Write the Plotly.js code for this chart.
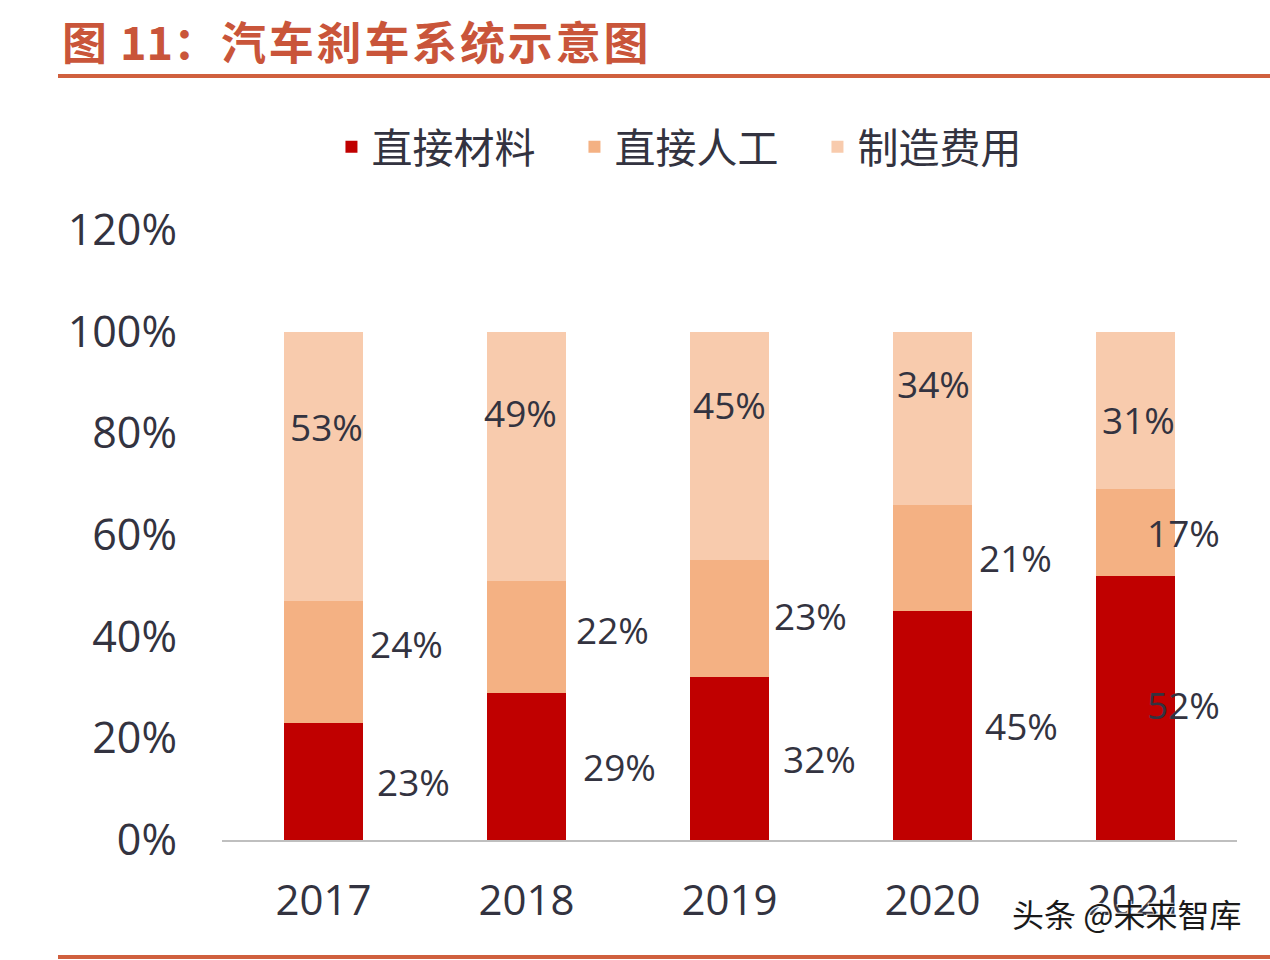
<!DOCTYPE html>
<html>
<head>
<meta charset="utf-8">
<script src="https://cdn.plot.ly/plotly-3.0.1.min.js"></script>
<style>html,body{margin:0;padding:0;background:#fff;}#chart{width:1270px;height:960px;}</style>
</head>
<body>
<div id="chart"></div>
<script>
const years = ['2017', '2018', '2019', '2020', '2021'];
const seriesNames = ['直接材料', '直接人工', '制造费用'];
const material = [23, 29, 32, 45, 52];
const labor = [24, 22, 23, 21, 17];
const overhead = [53, 49, 45, 34, 31];
const yTickVals = [0, 20, 40, 60, 80, 100, 120];
const yTickText = ['0%', '20%', '40%', '60%', '80%', '100%', '120%'];

const colors = ['#C00000', '#F4B183', '#F8CBAD'];
const textColor = '#333340';
const numFont = 'Open Sans, Noto Sans, sans-serif';
const cjkFont = 'Noto Sans CJK SC, sans-serif';

const series = [material, labor, overhead];
const traces = series.map((vals, i) => ({
  type: 'bar',
  name: seriesNames[i],
  x: years,
  y: vals,
  marker: {color: colors[i], line: {width: 0}},
  hoverinfo: 'skip'
}));

// label placement nudges (px), mimicking the source chart's manual label positions
const xShift = [[90, 93, 90, 89, 48], [83, 86, 81, 83, 48], [3, -6, 0, 1, 3]];
const yShift = [[0, 0, 0, 0, 3], [19, 7, 3, 0, 0], [40, 44, 42, 35, -9]];

const annotations = [];
years.forEach((yr, j) => {
  let base = 0;
  series.forEach((vals, i) => {
    const v = vals[j];
    annotations.push({
      x: j, y: base + v / 2, xref: 'x', yref: 'y',
      text: v + '%', showarrow: false,
      xshift: xShift[i][j], yshift: yShift[i][j],
      font: {family: numFont, size: 37, color: textColor}
    });
    base += v;
  });
});

annotations.push({
  xref: 'paper', yref: 'paper', x: 1.006, y: -0.12, xanchor: 'right', yanchor: 'middle',
  text: '头条 @未来智库', showarrow: false,
  font: {family: cjkFont, size: 32, color: '#1a1a1a', shadow: '1px 1px 1px #fff, -1px -1px 1px #fff'}
});

const hs = '\u200A';
const titleText = ['图', ' 11：', '汽', '车', '刹', '车', '系', '统', '示', '意', '图'].join(hs);

const layout = {
  width: 1270, height: 960,
  paper_bgcolor: '#ffffff', plot_bgcolor: '#ffffff',
  margin: {l: 222, r: 33, t: 230, b: 120},
  title: {
    text: titleText,
    x: 62 / 1270, xanchor: 'left', xref: 'container',
    y: 1 - 44 / 960, yanchor: 'middle', yref: 'container',
    font: {family: cjkFont, size: 45, color: '#C9553A', weight: 'bold'}
  },
  barmode: 'stack',
  bargap: 0.606,
  showlegend: true,
  legend: {
    orientation: 'h', x: 0.548, xanchor: 'center', xref: 'container',
    y: 1 - 147 / 960, yanchor: 'middle', yref: 'container',
    font: {family: cjkFont, size: 41, color: textColor},
    entrywidth: 198, entrywidthmode: 'pixels',
    traceorder: 'normal', itemclick: false, itemdoubleclick: false
  },
  xaxis: {
    type: 'category', range: [-0.5, 4.5],
    showline: true, linecolor: '#BFBFBF', linewidth: 1.5,
    showgrid: false, zeroline: false, ticks: '',
    tickfont: {family: numFont, size: 42, color: textColor},
    ticklabelstandoff: 23
  },
  yaxis: {
    range: [0, 120],
    tickvals: yTickVals, ticktext: yTickText,
    showgrid: false, zeroline: false, showline: false, ticks: '',
    tickfont: {family: numFont, size: 43, color: textColor},
    ticklabelstandoff: 44
  },
  annotations: annotations,
  shapes: [
    {type: 'line', xref: 'paper', yref: 'paper', x0: -164 / 1015, x1: 1048 / 1015,
     y0: (840 - 76) / 610, y1: (840 - 76) / 610, line: {color: '#D0603E', width: 4}},
    {type: 'line', xref: 'paper', yref: 'paper', x0: -164 / 1015, x1: 1048 / 1015,
     y0: (840 - 957) / 610, y1: (840 - 957) / 610, line: {color: '#D0603E', width: 4}}
  ]
};

Plotly.newPlot('chart', traces, layout, {displayModeBar: false, staticPlot: true});
</script>
</body>
</html>
